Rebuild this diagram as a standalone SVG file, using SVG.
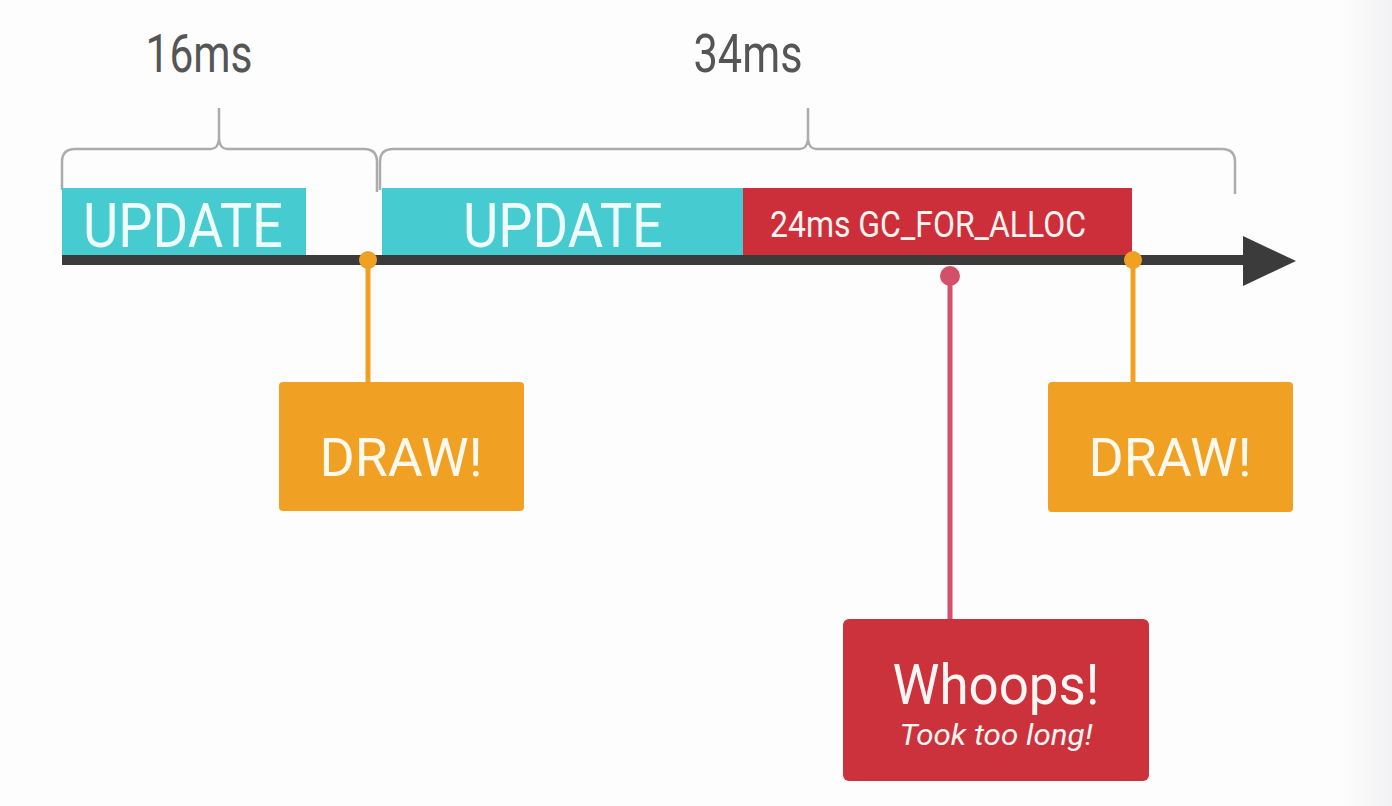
<svg xmlns="http://www.w3.org/2000/svg" width="1392" height="806" viewBox="0 0 1392 806">
  <defs>
    <linearGradient id="edge" x1="0" y1="0" x2="1" y2="0">
      <stop offset="0" stop-color="#fdfdfd"/>
      <stop offset="1" stop-color="#f2f2f4"/>
    </linearGradient>
    <style>
      .lbl { font-family: Roboto, "Liberation Sans", sans-serif; }
      .ms { fill: #555555; font-size: 54px; }
      .up { fill: #eefcfc; font-size: 62px; font-weight: 400; }
      .draw { fill: #fff8ec; font-size: 54px; }
      .brace { fill: none; stroke: #acacac; stroke-width: 2.5; stroke-linejoin: round; }
      .teal { fill: #46cbd0; }
      .red { fill: #cc2f3a; }
      .orange { fill: #f0a023; }
      .ostem { stroke: #f0a023; stroke-width: 5; }
      .rstem { stroke: #d4506a; stroke-width: 5; }
    </style>
  </defs>
  <rect x="0" y="0" width="1392" height="806" fill="#fdfdfd"/>
  <rect x="1340" y="0" width="52" height="806" fill="url(#edge)"/>

  <g id="label-16ms">
    <text class="lbl ms" x="199" y="72" text-anchor="middle" textLength="107" lengthAdjust="spacingAndGlyphs">16ms</text>
    <path class="brace" d="M62,190 V162 Q62,149 75,149 H211 Q218,149 219,139 V108 M219,139 Q220,149 227,149 H364 Q377,149 377,162 V192"/>
  </g>
  <g id="label-34ms">
    <text class="lbl ms" x="748" y="72" text-anchor="middle" textLength="109" lengthAdjust="spacingAndGlyphs">34ms</text>
    <path class="brace" d="M380,190 V162 Q380,149 393,149 H800 Q807,149 808,139 V108 M808,139 Q809,149 816,149 H1222 Q1235,149 1235,162 V194"/>
  </g>

  <g id="update-1">
    <rect class="teal" x="62" y="188" width="244" height="67"/>
    <text class="lbl up" x="183" y="247" text-anchor="middle" textLength="200" lengthAdjust="spacingAndGlyphs">UPDATE</text>
  </g>
  <g id="update-2">
    <rect class="teal" x="382" y="188" width="362" height="67"/>
    <text class="lbl up" x="563" y="247" text-anchor="middle" textLength="200" lengthAdjust="spacingAndGlyphs">UPDATE</text>
  </g>
  <g id="gc">
    <rect class="red" x="743" y="188" width="389" height="67"/>
    <text class="lbl" x="928" y="237" text-anchor="middle" font-size="36" fill="#fff4f0" textLength="316" lengthAdjust="spacingAndGlyphs">24ms GC_FOR_ALLOC</text>
  </g>

  <g id="timeline">
    <rect x="62" y="255" width="1186" height="10" fill="#3b3b3b"/>
    <polygon points="1243,236 1296,261 1243,286" fill="#3b3b3b"/>
  </g>

  <g id="connectors">
    <line class="ostem" x1="368" y1="260" x2="368" y2="384"/>
    <circle cx="368" cy="260" r="9" class="orange"/>
    <line class="ostem" x1="1133" y1="260" x2="1133" y2="384"/>
    <circle cx="1133" cy="260" r="9" class="orange"/>
    <line class="rstem" x1="950" y1="276" x2="950" y2="621"/>
    <circle cx="950" cy="276" r="10" fill="#d4506a"/>
  </g>

  <g id="draw-1">
    <rect class="orange" x="279" y="382" width="245" height="129" rx="4"/>
    <text class="lbl draw" x="401" y="476" text-anchor="middle" textLength="163" lengthAdjust="spacingAndGlyphs">DRAW!</text>
  </g>
  <g id="draw-2">
    <rect class="orange" x="1048" y="382" width="245" height="130" rx="4"/>
    <text class="lbl draw" x="1170" y="476" text-anchor="middle" textLength="163" lengthAdjust="spacingAndGlyphs">DRAW!</text>
  </g>
  <g id="whoops">
    <rect x="843" y="619" width="306" height="162" rx="6" fill="#cb323c"/>
    <text class="lbl" x="996" y="704" text-anchor="middle" font-size="55" fill="#fff6f4" textLength="207" lengthAdjust="spacingAndGlyphs">Whoops!</text>
    <text class="lbl" x="996" y="745" text-anchor="middle" font-size="30" font-style="italic" fill="#fff6f4" textLength="193" lengthAdjust="spacingAndGlyphs">Took too long!</text>
  </g>
</svg>
